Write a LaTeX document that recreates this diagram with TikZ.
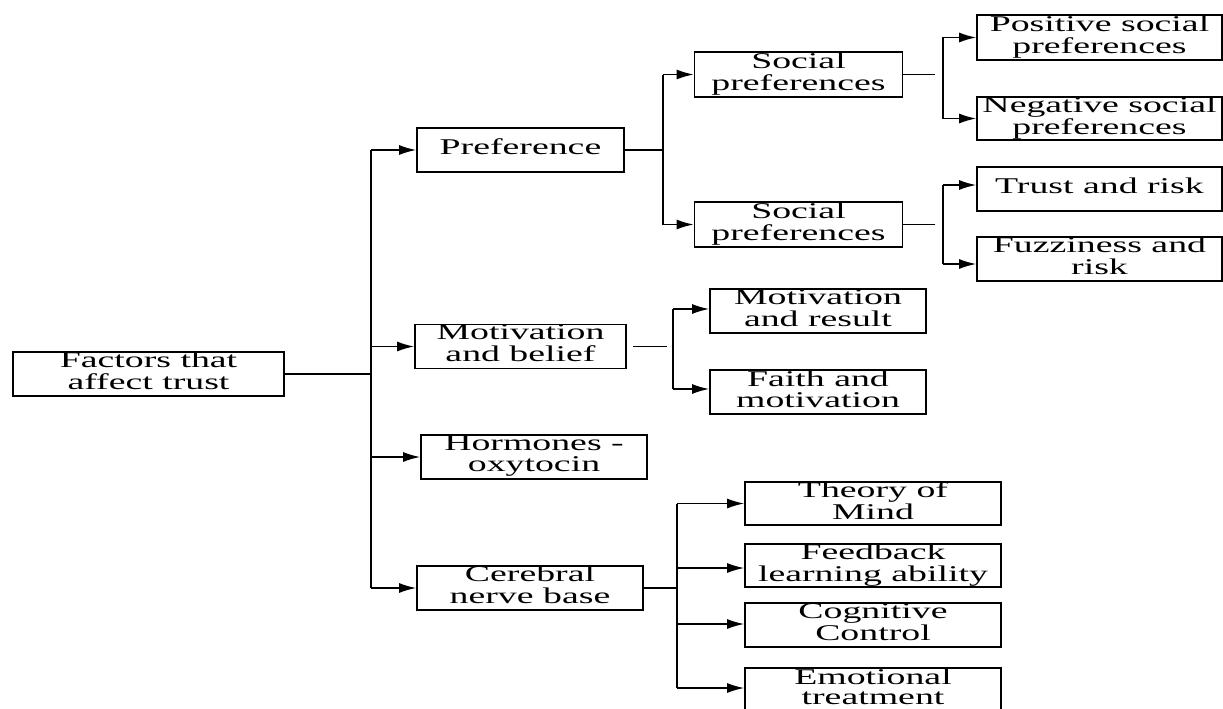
\documentclass[tikz,border=0pt]{standalone}
\usepackage{fontspec}
\setmainfont{Liberation Serif}
\usepackage{graphicx}
\usetikzlibrary{arrows.meta}
\newcommand{\st}[1]{\scalebox{1.68}[1]{\fontsize{22.5}{20.5}\selectfont\begin{tabular}{@{}c@{}}#1\end{tabular}}}
\begin{document}
\begin{tikzpicture}[x=1pt,y=-1pt,
  bx/.style={draw, line width=1.9pt, inner sep=0pt, anchor=center},
  sz/.style 2 args={minimum width=#1, minimum height=#2},
  ln/.style={line width=1.3pt},
  arr/.style={line width=1.3pt, -{Latex[length=17pt,width=10pt]}}]
\useasboundingbox (0,0) rectangle (1223,709);
% boxes
\node[bx, sz={271}{44}] (root) at (148.5,374) {\st{Factors that\\affect trust}};
\node[bx, sz={207}{44}] (pref) at (520.5,150) {\st{Preference}};
\node[bx, sz={208}{45}] (sp1) at (798.5,74.5) {\st{Social\\preferences}};
\node[bx, sz={208}{45}] (sp2) at (798.5,224.5) {\st{Social\\preferences}};
\node[bx, sz={245}{45}] (pos) at (1099.5,37.5) {\st{Positive social\\preferences}};
\node[bx, sz={245}{43}] (neg) at (1099.5,118.5) {\st{Negative social\\preferences}};
\node[bx, sz={245}{44}] (trust) at (1099.5,189) {\st{Trust and risk}};
\node[bx, sz={245}{44}] (fuzz) at (1099.5,259) {\st{Fuzziness and\\risk}};
\node[bx, sz={211}{44}] (mb) at (520.5,346.5) {\st{Motivation\\and belief}};
\node[bx, sz={216}{44}] (mr) at (818,311) {\st{Motivation\\and result}};
\node[bx, sz={216}{44}] (fm) at (818,392) {\st{Faith and\\motivation}};
\node[bx, sz={226}{44}] (horm) at (534,457) {\st{Hormones -\\oxytocin}};
\node[bx, sz={226}{44}] (cer) at (530,588) {\st{Cerebral\\nerve base}};
\node[bx, sz={256}{43}] (tom) at (873,503.5) {\st{Theory of\\Mind}};
\node[bx, sz={256}{43}] (fb) at (873,565.5) {\st{Feedback\\learning ability}};
\node[bx, sz={256}{44}] (cog) at (873,625) {\st{Cognitive\\Control}};
\node[bx, sz={256}{44}] (emo) at (873,690) {\st{Emotional\\treatment}};
% trunk
\coordinate (tr) at (371,374);
\coordinate (t1) at (371,150);
\coordinate (t2) at (371,346.5);
\coordinate (t3) at (371,457);
\coordinate (t4) at (371,588);
\draw[ln] (root.east) -- (tr);
\draw[ln] (t1) -- (t4);
\draw[arr] (t1) -- (pref.west);
\draw[arr] (t2) -- (mb.west);
\draw[arr] (t3) -- (horm.west);
\draw[arr] (t4) -- (cer.west);
% preference bracket
\coordinate (p0) at (663,150);
\coordinate (pa) at (663,74.5);
\coordinate (pb) at (663,224.5);
\draw[ln] (pref.east) -- (p0);
\draw[ln] (pa) -- (pb);
\draw[arr] (pa) -- (sp1.west);
\draw[arr] (pb) -- (sp2.west);
% social preferences 1
\coordinate (s1g) at (935,74.5);
\coordinate (b1t) at (943,37.5);
\coordinate (b1b) at (943,118.5);
\draw[ln] (sp1.east) -- (s1g);
\draw[ln] (b1t) -- (b1b);
\draw[arr] (b1t) -- (pos.west);
\draw[arr] (b1b) -- (neg.west);
% social preferences 2
\coordinate (s2g) at (935,224.5);
\coordinate (b2t) at (943,185);
\coordinate (b2b) at (943,264);
\draw[ln] (sp2.east) -- (s2g);
\draw[ln] (b2t) -- (b2b);
\draw[arr] (b2t) -- (trust.west |- b2t);
\draw[arr] (b2b) -- (fuzz.west |- b2b);
% motivation and belief
\coordinate (mg) at (667,346.5);
\coordinate (m1) at (673,309);
\coordinate (m2) at (673,389);
\draw[ln] ([xshift=6pt]mb.east) -- (mg);
\draw[ln] (m1) -- (m2);
\draw[arr] (m1) -- (mr.west |- m1);
\draw[arr] (m2) -- (fm.west |- m2);
% cerebral nerve base
\coordinate (c0) at (677,588);
\coordinate (c1) at (677,503.5);
\coordinate (c2) at (677,568);
\coordinate (c3) at (677,624);
\coordinate (c4) at (677,688);
\draw[ln] (cer.east) -- (c0);
\draw[ln] (c1) -- (c4);
\draw[arr] (c1) -- (tom.west);
\draw[arr] (c2) -- (fb.west |- c2);
\draw[arr] (c3) -- (cog.west |- c3);
\draw[arr] (c4) -- (emo.west |- c4);
\end{tikzpicture}
\end{document}
